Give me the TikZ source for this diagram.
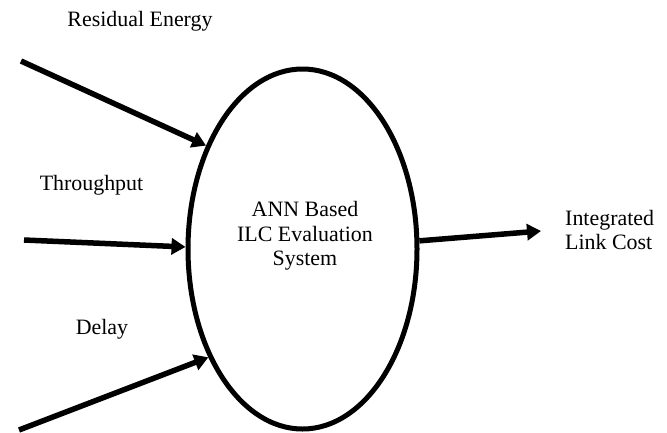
\documentclass[tikz,border=0pt]{standalone}
\usepackage{fontspec}
\setmainfont{Liberation Serif}
\usetikzlibrary{shapes.geometric,arrows.meta}
\begin{document}
\begin{tikzpicture}[x=1bp,y=-1bp,
  lbl/.style={font=\fontsize{22}{24.5}\selectfont,inner sep=0pt},
  flow/.style={line width=5.5bp,-{Triangle[length=14bp,width=16bp]}}]
\useasboundingbox (0,0) rectangle (667,432);
\node[ellipse,draw,line width=5bp,minimum width=229bp,minimum height=360bp,inner sep=0pt] (ell) at (302.5,249) {};
\node[lbl,align=center] (sys) at (305,236) {ANN Based\\ILC Evaluation\\System};
\node[lbl] (res) at (140,21) {Residual Energy};
\node[lbl] (thr) at (91.5,185) {Throughput};
\node[lbl] (del) at (102,329) {Delay};
\node[lbl,align=left,anchor=west] (out) at (565,230) {Integrated\\Link Cost};
\coordinate (s1) at (21,61);
\coordinate (s2) at (24,240);
\coordinate (s3) at (19,430);
\coordinate (e4) at (541,231);
\draw[flow] (s1) -- (ell.133);
\draw[flow] (s2) -- (ell.179);
\draw[flow] (s3) -- (ell.229);
\draw[flow] (ell.4) -- (e4);
\end{tikzpicture}
\end{document}
